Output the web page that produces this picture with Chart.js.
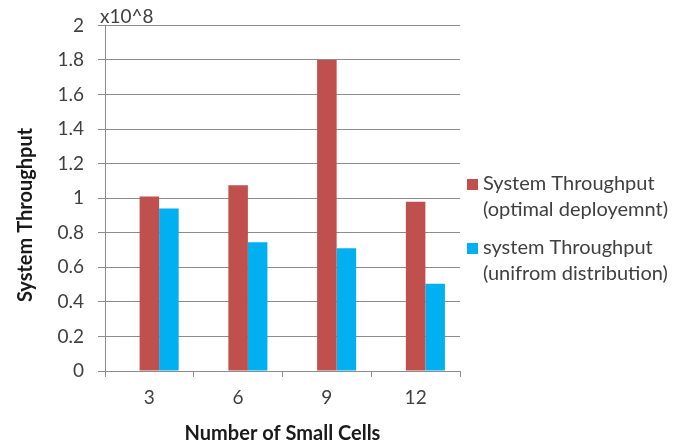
<!DOCTYPE html>
<html>
<head>
<meta charset="utf-8">
<script src="https://cdn.jsdelivr.net/npm/chart.js@4/dist/chart.umd.min.js"></script>
<style>
html,body{margin:0;padding:0;background:#fff;}
#wrap{width:699px;height:447px;position:relative;}
</style>
</head>
<body>
<div id="wrap"><canvas id="c" width="699" height="447"></canvas></div>
<script>
const categories = ['3', '6', '9', '12'];
const optimalValues = [1.01, 1.075, 1.8, 0.98];
const uniformValues = [0.94, 0.745, 0.71, 0.505];
const spacerValues = [null, null, null, null];
const seriesLabels = [
  ['System Throughput', '(optimal deployemnt)'],
  ['system Throughput', '(unifrom distribution)']
];
const seriesColors = ['#C0504D', '#00B0F0'];
const yMin = 0, yMax = 2, yStep = 0.2;
const scaleNote = 'x10^8';
const xTitle = 'Number of Small Cells';
const yTitle = 'System Throughput';

const FONT = 'Lato, "Open Sans", sans-serif';
const GRID = '#8c8c8c';

const extras = {
  id: 'extras',
  afterDraw(chart) {
    const ctx = chart.ctx;
    const ca = chart.chartArea;
    ctx.save();
    ctx.font = '19px ' + FONT;
    ctx.fillStyle = '#404040';
    ctx.textBaseline = 'middle';
    ctx.textAlign = 'left';
    ctx.fillText(scaleNote, ca.left - 5, ca.top - 9);
    // y title
    ctx.save();
    ctx.translate(26, 215);
    ctx.rotate(-Math.PI / 2);
    ctx.textAlign = 'center';
    ctx.fillStyle = '#1a1a1a';
    ctx.font = 'bold 20px ' + FONT;
    ctx.fillText(yTitle, 0, 0);
    ctx.restore();
    // legend
    ctx.font = '20px ' + FONT;
    const tops = [184, 248];
    for (let i = 0; i < seriesLabels.length; i++) {
      const y = tops[i];
      ctx.fillStyle = seriesColors[i];
      ctx.fillRect(467, y - 5, 11, 11);
      ctx.fillStyle = '#404040';
      seriesLabels[i].forEach((t, j) => ctx.fillText(t, 483, y + j * 26));
    }
    ctx.restore();
  }
};

new Chart(document.getElementById('c'), {
  type: 'bar',
  data: {
    labels: categories,
    datasets: [
      { label: '', data: spacerValues, backgroundColor: 'rgba(0,0,0,0)' },
      { label: seriesLabels[0].join(' '), data: optimalValues, backgroundColor: seriesColors[0] },
      { label: seriesLabels[1].join(' '), data: uniformValues, backgroundColor: seriesColors[1] }
    ]
  },
  options: {
    responsive: false,
    animation: false,
    events: [],
    layout: { padding: { left: 0, right: 239, top: 22, bottom: 0 } },
    datasets: { bar: { categoryPercentage: 0.66, barPercentage: 1 } },
    plugins: { legend: { display: false }, tooltip: { enabled: false } },
    scales: {
      x: {
        grid: { display: true, drawOnChartArea: false, drawTicks: true, tickLength: 6, color: GRID, offset: true },
        border: { color: GRID, width: 1 },
        ticks: { color: '#404040', font: { family: FONT, size: 19 }, padding: 9 },
        title: { display: true, text: xTitle, color: '#1a1a1a', font: { family: FONT, size: 20, weight: 'bold' }, padding: { top: 4, bottom: 1 } },
        afterFit(s) { s.height = 76; }
      },
      y: {
        min: yMin, max: yMax,
        grid: { color: GRID, tickLength: 7, drawTicks: true },
        border: { color: GRID, width: 1 },
        ticks: {
          stepSize: yStep,
          color: '#404040',
          font: { family: FONT, size: 19 },
          padding: 14,
          callback: v => String(Math.round(v * 10) / 10)
        },
        title: { display: false },
        afterFit(s) { s.width = 105; }
      }
    }
  },
  plugins: [extras]
});
</script>
</body>
</html>
